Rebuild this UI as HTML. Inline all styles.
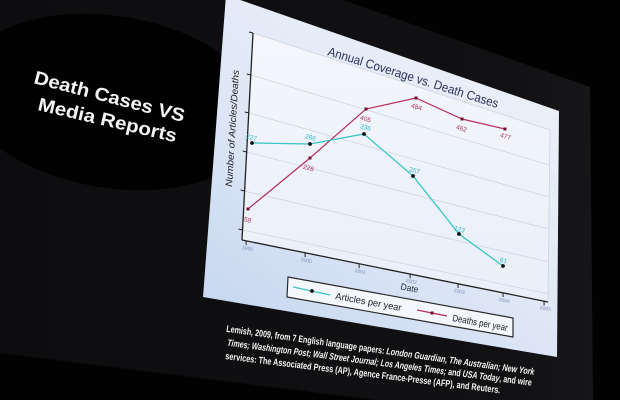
<!DOCTYPE html>
<html><head><meta charset="utf-8"><style>
html,body{margin:0;padding:0;background:#000;overflow:hidden;}
svg{display:block}
</style></head><body>
<svg width="620" height="400" viewBox="0 0 620 400" xmlns="http://www.w3.org/2000/svg" font-family="Liberation Sans, sans-serif">
<defs>
<linearGradient id="pg" x1="0.8" y1="0" x2="0.1" y2="1">
<stop offset="0" stop-color="#eef1fa"/>
<stop offset="0.5" stop-color="#e0e8f6"/>
<stop offset="1" stop-color="#c4d6f0"/>
</linearGradient>
<linearGradient id="plg" x1="0" y1="0" x2="0" y2="1">
<stop offset="0" stop-color="#f4f6fc"/>
<stop offset="1" stop-color="#e9eff9"/>
</linearGradient>
<linearGradient id="sg" x1="0" y1="0" x2="1" y2="0">
<stop offset="0" stop-color="#0d0d0f"/>
<stop offset="0.85" stop-color="#111113"/>
<stop offset="1" stop-color="#161618"/>
</linearGradient>
</defs>
<rect width="620" height="400" fill="#020202"/>
<!-- projected slide -->
<polygon points="0,0 343,0 590,87 593,400 376,400 0,353" fill="url(#sg)"/>
<!-- dark oval -->
<ellipse cx="112" cy="102" rx="152" ry="86" transform="rotate(9 112 102)" fill="#010101"/>
<!-- left title -->
<text x="33" y="83" transform="rotate(14.6 33 83)" font-size="18.5" font-weight="bold" fill="#f4f4f4" textLength="155" lengthAdjust="spacingAndGlyphs">Death Cases VS</text>
<text x="37" y="110" transform="rotate(13.1 37 110)" font-size="18.5" font-weight="bold" fill="#f4f4f4" textLength="142" lengthAdjust="spacingAndGlyphs">Media Reports</text>

<!-- panel -->
<polygon points="226,-5 559,111 557,357 203,297" fill="url(#pg)"/>
<!-- plot area -->
<polygon points="253,33 550,130 548,302 242,240" fill="url(#plg)" stroke="#cdd4e0" stroke-width="0.8"/>
<!-- gridlines -->
<g stroke="#cfd6e2" stroke-width="0.8">
<line x1="250.8" y1="75" x2="549" y2="165"/>
<line x1="248.8" y1="113" x2="549" y2="197"/>
<line x1="246.7" y1="152" x2="549" y2="229"/>
<line x1="244.6" y1="191" x2="549" y2="262"/>
<line x1="242.5" y1="230" x2="549" y2="294"/>
</g>
<!-- axes -->
<g stroke="#222" stroke-width="1.3" fill="none">
<line x1="253" y1="33" x2="242" y2="240"/>
<line x1="242" y1="240" x2="548" y2="302"/>
</g>
<!-- y ticks -->
<g stroke="#222" stroke-width="1">
<line x1="253" y1="33" x2="249" y2="32"/>
<line x1="250.8" y1="75" x2="246.8" y2="74"/>
<line x1="248.8" y1="113" x2="244.8" y2="112"/>
<line x1="246.7" y1="152" x2="242.7" y2="151"/>
<line x1="244.6" y1="191" x2="240.6" y2="190"/>
<line x1="242.5" y1="230" x2="238.5" y2="229"/>
</g>
<!-- x ticks -->
<g stroke="#222" stroke-width="1">
<line x1="246" y1="240.8" x2="246.2" y2="245"/>
<line x1="305" y1="252.8" x2="305.2" y2="257"/>
<line x1="359" y1="263.7" x2="359.2" y2="268"/>
<line x1="410" y1="274" x2="410.2" y2="278.2"/>
<line x1="458" y1="283.8" x2="458.1" y2="288"/>
<line x1="503" y1="292.9" x2="503.1" y2="297"/>
<line x1="544" y1="301.2" x2="544.1" y2="305.4"/>
</g>
<!-- x tick labels -->
<g font-size="5" fill="#7f8fb8" text-anchor="middle">
<text x="247" y="250" transform="rotate(11.5 247 250)">1999</text>
<text x="306" y="262" transform="rotate(11.5 306 262)">2000</text>
<text x="360" y="273" transform="rotate(11.5 360 273)">2001</text>
<text x="411" y="283" transform="rotate(11.5 411 283)">2002</text>
<text x="459" y="293" transform="rotate(11.5 459 293)">2003</text>
<text x="504" y="302" transform="rotate(11.5 504 302)">2004</text>
<text x="545" y="310" transform="rotate(11.5 545 310)">2005</text>
</g>
<!-- title -->
<text x="412" y="81.5" transform="rotate(17.3 412 81.5)" text-anchor="middle" font-size="12.5" fill="#2b3358" textLength="178" lengthAdjust="spacingAndGlyphs">Annual Coverage vs. Death Cases</text>
<!-- y label -->
<text x="235.5" y="128.5" transform="rotate(-86.6 235.5 128.5)" text-anchor="middle" font-size="9.5" font-style="italic" fill="#222" textLength="117" lengthAdjust="spacingAndGlyphs">Number of Articles/Deaths</text>
<!-- Date label -->
<text x="409" y="291" transform="rotate(11 409 291)" text-anchor="middle" font-size="9" fill="#1f2540" textLength="18" lengthAdjust="spacingAndGlyphs">Date</text>

<!-- series: deaths -->
<polyline points="248,209 310,158 366,109 416,98 462,119 505,129" fill="none" stroke="#b8305a" stroke-width="1.2"/>
<g fill="#7a1030">
<rect x="246.5" y="207.5" width="3" height="3"/>
<rect x="308.5" y="156.5" width="3" height="3"/>
<rect x="364.5" y="107.5" width="3" height="3"/>
<rect x="414.5" y="96.5" width="3" height="3"/>
<rect x="460.5" y="117.5" width="3" height="3"/>
<rect x="503.5" y="127.5" width="3" height="3"/>
</g>
<!-- series: articles -->
<polyline points="252,143 310,144 364,134 413,176 459,234 503,266" fill="none" stroke="#38c6c9" stroke-width="1.3"/>
<g fill="#111">
<circle cx="252" cy="143" r="1.9"/>
<circle cx="310" cy="144" r="1.9"/>
<circle cx="364" cy="134" r="1.9"/>
<circle cx="413" cy="176" r="1.9"/>
<circle cx="459" cy="234" r="1.9"/>
<circle cx="503" cy="266" r="1.9"/>
</g>
<!-- article labels -->
<g font-size="6.5" fill="#2fb8c2" text-anchor="middle">
<text x="251" y="139.5" transform="rotate(15 251 139.5)">227</text>
<text x="310" y="139.5" transform="rotate(15 310 139.5)">266</text>
<text x="365" y="129.5" transform="rotate(15 365 129.5)">336</text>
<text x="414" y="172.5" transform="rotate(15 414 172.5)">257</text>
<text x="459" y="231.5" transform="rotate(14 459 231.5)">123</text>
<text x="503" y="262.5" transform="rotate(14 503 262.5)">61</text>
</g>
<!-- death labels -->
<g font-size="6.5" fill="#b03060" text-anchor="middle">
<text x="247" y="222" transform="rotate(14 247 222)">58</text>
<text x="308" y="170" transform="rotate(15 308 170)">228</text>
<text x="365" y="121" transform="rotate(16 365 121)">405</text>
<text x="416" y="109" transform="rotate(16 416 109)">484</text>
<text x="461" y="130.5" transform="rotate(16 461 130.5)">462</text>
<text x="505" y="138.5" transform="rotate(16 505 138.5)">477</text>
</g>

<!-- legend -->
<polygon points="288,277 513,318 513,337 287,297" fill="#f4f7fc" stroke="#2a2a2a" stroke-width="1.2"/>
<line x1="293" y1="287" x2="330" y2="295" stroke="#38c6c9" stroke-width="1.3"/>
<circle cx="312" cy="291" r="1.9" fill="#111"/>
<text x="335" y="299" transform="rotate(10.3 335 299)" font-size="9.5" fill="#1a1a2a" textLength="67" lengthAdjust="spacingAndGlyphs">Articles per year</text>
<line x1="417" y1="310" x2="447" y2="316" stroke="#b8305a" stroke-width="1.2"/>
<rect x="430.5" y="311.5" width="3" height="3" fill="#7a1030"/>
<text x="452" y="321" transform="rotate(10.3 452 321)" font-size="9.5" fill="#1a1a2a" textLength="56" lengthAdjust="spacingAndGlyphs">Deaths per year</text>

<!-- caption -->
<g font-size="9.5" fill="#f4f4f4" font-weight="bold">
<text x="226" y="331.7" transform="rotate(8.0 226 331.7)" textLength="311" lengthAdjust="spacingAndGlyphs">Lemish, 2009, from 7 English language papers: <tspan font-style="italic">London Guardian, The Australian; New York</tspan></text>
<text x="227" y="345.7" transform="rotate(7.5 227 345.7)" textLength="307" lengthAdjust="spacingAndGlyphs"><tspan font-style="italic">Times; Washington Post; Wall Street Journal; Los Angeles Times;</tspan> and <tspan font-style="italic">USA Today</tspan>, and wire</text>
<text x="225" y="359" transform="rotate(7.1 225 359)" textLength="277" lengthAdjust="spacingAndGlyphs">services: The Associated Press (AP), Agence France-Presse (AFP), and Reuters.</text>
</g>
</svg>
</body></html>
